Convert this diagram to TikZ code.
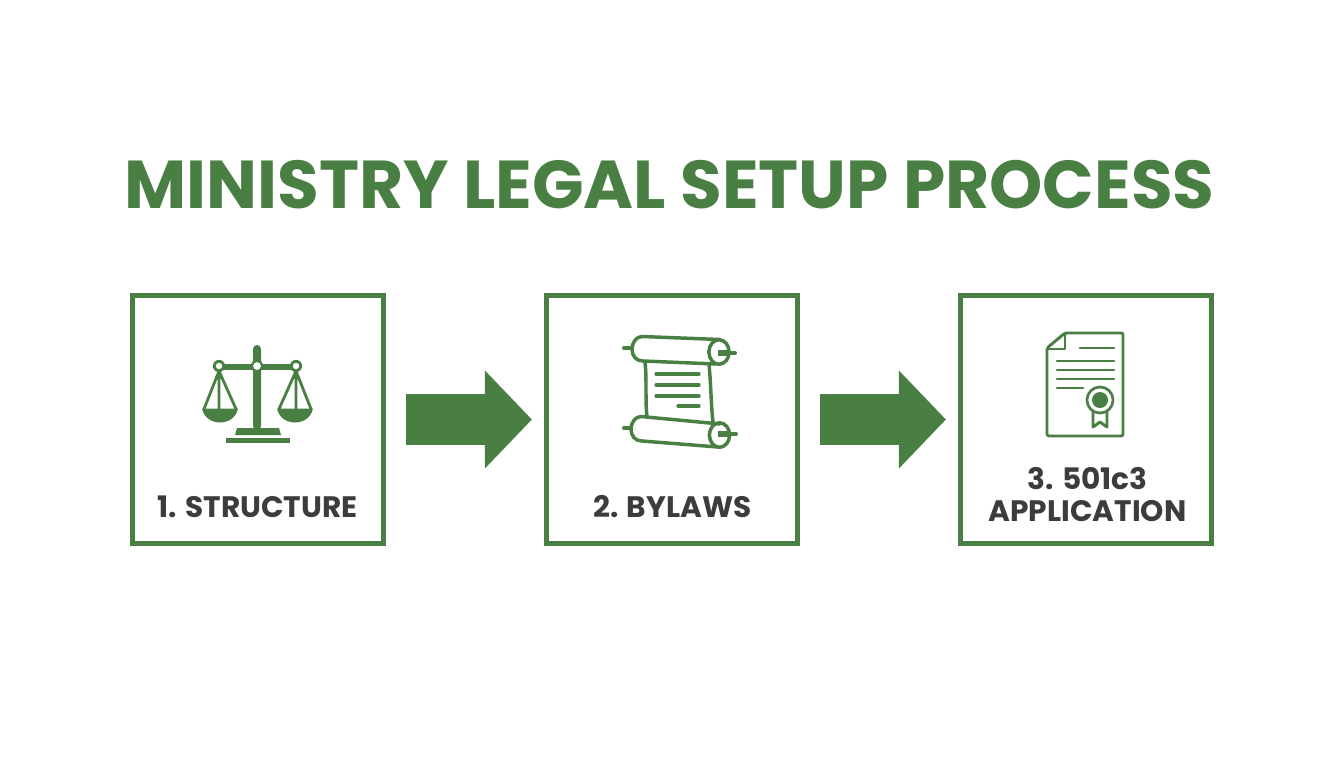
\documentclass[tikz,border=0pt]{standalone}
\usepackage{fontspec}
\setmainfont{Poppins}
\usetikzlibrary{arrows.meta}
\definecolor{lgreen}{HTML}{4A7F43}
\definecolor{ltext}{HTML}{3C3C3A}
\tikzset{
  stepbox/.style={draw=lgreen,line width=3.9pt,minimum width=188.25pt,minimum height=186pt,outer sep=0pt,inner sep=0pt},
  blockarrow/.style={draw=lgreen,line width=38.25pt,-{Triangle[width=71.25pt,length=35.25pt]},shorten <=16.9pt,shorten >=10.9pt},
  titletext/.style={text=lgreen,font=\bfseries\fontsize{50.8pt}{60pt}\selectfont,inner sep=0pt},
  steplabel/.style={text=ltext,font=\fontsize{22.2pt}{24.5pt}\selectfont\bfseries,align=center,inner sep=0pt},
  ico/.style={draw=lgreen,line width=2.6pt,line cap=round,line join=round},
  icothin/.style={draw=lgreen,line width=2.4pt,line cap=round},
  certline/.style={draw=lgreen,line width=2.2pt,line cap=round,line join=round},
}
\begin{document}
\begin{tikzpicture}[x=0.75pt,y=-0.75pt]
\useasboundingbox (0,0) rectangle (1344,768);
\fill[white] (0,0) rectangle (1344,768);
\node[titletext] (title) at (669.5,185) {MINISTRY LEGAL SETUP PROCESS};
\node[stepbox] (b1) at (258,419.5) {};
\node[stepbox] (b2) at (672,419.5) {};
\node[stepbox] (b3) at (1086,419.5) {};
\draw[blockarrow] (b1.east) -- (b2.west);
\draw[blockarrow] (b2.east) -- (b3.west);
\node[steplabel] (l1) at (257.5,507) {1. STRUCTURE};
\node[steplabel] (l2) at (672.5,507) {2. BYLAWS};
\node[steplabel] (l3) at (1087.5,494.5) {3. 501c3\\APPLICATION};
% scales
\fill[lgreen,rounded corners=3pt] (253,366) -- (253,345) -- (261,345) -- (261,430) -- (253,430) -- cycle;
\fill[lgreen] (219,363.5) rectangle (296,369.5);
\foreach \cx/\hole in {219/2.4pt,257/2.9pt,296/2.4pt}{\fill[lgreen] (\cx,366) circle (4.6pt); \fill[white] (\cx,366) circle (\hole);}
\draw[icothin,line width=2.1pt] (219,371) -- (204,409) (219,371) -- (219,409) (219,371) -- (236,409);
\draw[icothin,line width=2.1pt] (296,371) -- (279,409) (296,371) -- (296,409) (296,371) -- (311,409);
\fill[lgreen] (202,408.5) -- (238,408.5) .. controls (236,418) and (228,422.5) .. (220,422.5) .. controls (212,422.5) and (204,418) .. (202,408.5) -- cycle;
\fill[lgreen] (277,408.5) -- (313,408.5) .. controls (311,418) and (303,422.5) .. (295,422.5) .. controls (287,422.5) and (279,418) .. (277,408.5) -- cycle;
\fill[lgreen] (235,435) -- (237,428) -- (279,428) -- (281,435) -- cycle;
\fill[lgreen] (226,437.5) rectangle (290,443);
% scroll
\draw[ico] (720,339.5) -- (642,336.5) .. controls (636,336.5) and (632,343) .. (632,349) .. controls (632,356) and (636,361) .. (643,361) -- (716,364);
\draw[ico] (719,352) ellipse (7.6pt and 9.2pt);
\draw[ico,line width=3pt] (624,348) -- (631,348);
\draw[ico,line width=4.3pt,line cap=butt] (718,353) -- (730,353);
\draw[ico,line width=3pt] (730,353) -- (735,353);
\draw[ico] (645,362) .. controls (647,380) and (645,400) .. (647,417);
\draw[ico] (709,364) .. controls (711,385) and (711,405) .. (713,422);
\draw[icothin] (656,374) -- (699,374) (656,385) -- (699,385) (656,396) -- (699,396) (678,406) -- (699,406);
\draw[ico] (720,424) -- (641,416.5) .. controls (635,416.5) and (631,423) .. (631,429) .. controls (631,436) and (635,441) .. (642,441) -- (718,447);
\draw[ico] (719.5,435) ellipse (7.6pt and 9.2pt);
\draw[ico,line width=3pt] (624,428) -- (630,428);
\draw[ico,line width=4.3pt,line cap=butt] (718,434) -- (730,434);
\draw[ico,line width=3pt] (730,434) -- (736,434);
% certificate
\draw[certline,rounded corners=1.5pt] (1047,348) -- (1065,333) -- (1123,333) -- (1123,436) -- (1047,436) -- cycle;
\draw[certline] (1065,333) -- (1065,349) -- (1047,349);
\draw[certline] (1080,348) -- (1114,348) (1057,361) -- (1114,361) (1057,370) -- (1114,370) (1057,379) -- (1114,379) (1057,388) -- (1083,388);
\fill[white] (1100,400) circle (11.5pt);
\draw[certline,fill=white] (1093,410) -- (1093,427) -- (1100,422) -- (1107,427) -- (1107,410);
\draw[certline,fill=white,line width=2pt] (1100,400) circle (9.8pt);
\fill[lgreen] (1100,400) circle (6pt);
\end{tikzpicture}
\end{document}
